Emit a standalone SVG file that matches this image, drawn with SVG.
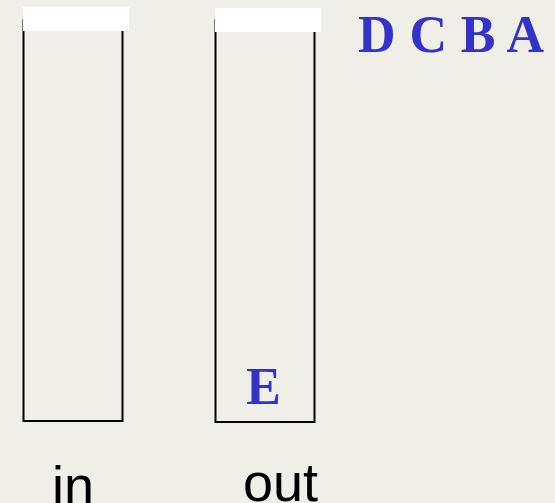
<svg xmlns="http://www.w3.org/2000/svg" width="555" height="503" viewBox="0 0 555 503">
<style>
.stack{fill:none;stroke:#000;stroke-width:2}
.cap{fill:#fff}
.letter{font-family:"Liberation Serif","Times New Roman",serif;font-weight:bold;fill:#3333CC}
.label{font-family:"Liberation Sans",Arial,sans-serif;fill:#000}
</style>
<rect width="555" height="503" fill="#F0EFE7"/>
<g id="in-stack">
<rect class="stack" x="23.5" y="20" width="99" height="401"/>
<rect class="cap" x="23" y="7" width="106" height="24"/>
<text class="label" x="52" y="504" font-size="54">in</text>
</g>
<g id="out-stack">
<rect class="stack" x="215.5" y="20" width="99" height="402"/>
<rect class="cap" x="215" y="8" width="106" height="24"/>
<text class="letter" x="263.5" y="404" font-size="52" text-anchor="middle">E</text>
<text class="label" x="243" y="501" font-size="54">out</text>
</g>
<g id="queue">
<text class="letter" x="358" y="52" font-size="52" textLength="186" lengthAdjust="spacing">D C B A</text>
</g>
<g id="connectors"/>
</svg>
